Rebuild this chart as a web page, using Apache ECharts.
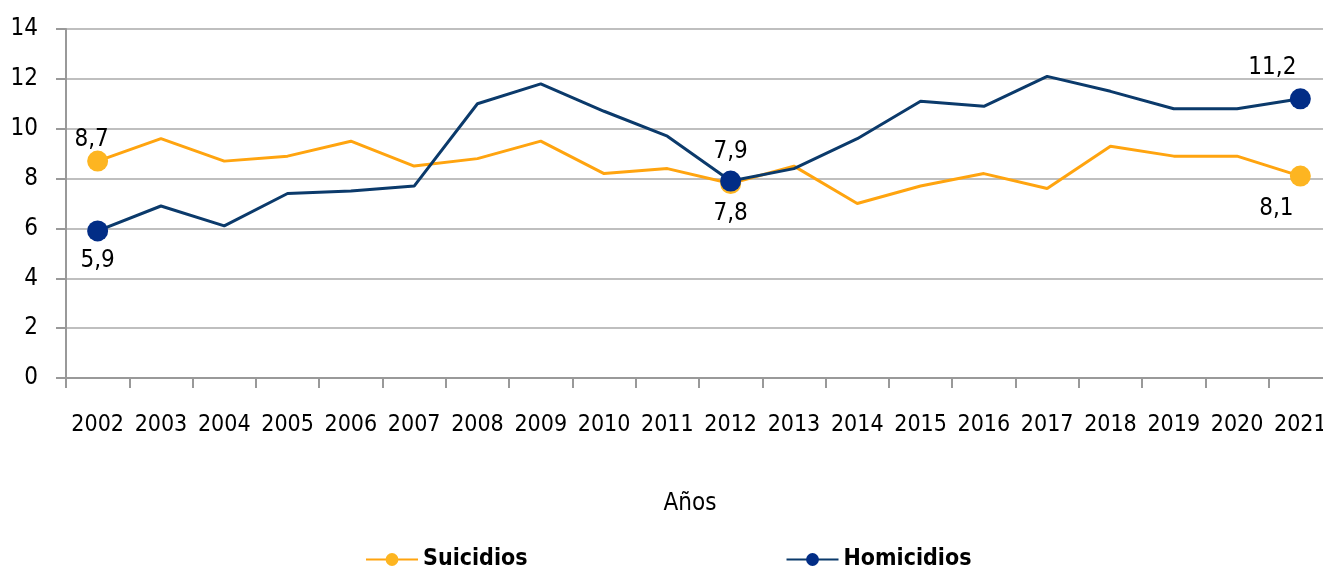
<!DOCTYPE html>
<html>
<head>
<meta charset="utf-8" />
<script src="https://cdn.jsdelivr.net/npm/echarts@6/dist/echarts.min.js"></script>
<title>Suicidios y homicidios</title>
<style>
  html, body { margin: 0; padding: 0; background: #fff; }
</style>
</head>
<body>
<div id="main" style="width:1323px; height:573px"></div>
<script type="text/javascript">
var years = ['2002','2003','2004','2005','2006','2007','2008','2009','2010','2011',
             '2012','2013','2014','2015','2016','2017','2018','2019','2020','2021'];
var suicidios  = [8.7, 9.6, 8.7, 8.9, 9.5, 8.5, 8.8, 9.5, 8.2, 8.4,
                  7.8, 8.5, 7.0, 7.7, 8.2, 7.6, 9.3, 8.9, 8.9, 8.1];
var homicidios = [5.9, 6.9, 6.1, 7.4, 7.5, 7.7, 11.0, 11.8, 10.7, 9.7,
                  7.9, 8.4, 9.6, 11.1, 10.9, 12.1, 11.5, 10.8, 10.8, 11.2];
var marcados = [0, 10, 19]; // años con punto y etiqueta
var yTicks = [0, 2, 4, 6, 8, 10, 12, 14];

var font = '"DejaVu Sans Condensed", "Liberation Sans Narrow", sans-serif';

// posiciones de las etiquetas: [serie][indice marcado]
var labelPos = {
    s: [{position: 'top', offset: [-6, 9]}, {position: 'bottom', offset: [0, 0]}, {position: 'bottom', offset: [-24, 2]}],
    h: [{position: 'bottom', offset: [0, -1]}, {position: 'top', offset: [0, 1]}, {position: 'top', offset: [-28, -1]}]
};

function buildData(values, key) {
    return values.map(function (v, i) {
        var k = marcados.indexOf(i);
        if (k < 0) return {value: v, symbol: 'none'};
        return {
            value: v,
            label: {
                show: true,
                position: labelPos[key][k].position,
                offset: labelPos[key][k].offset,
                distance: 8
            }
        };
    });
}

var labelStyle = {
    color: '#000',
    fontFamily: font,
    fontSize: 24,
    formatter: function (p) { return String(p.value).replace('.', ','); }
};

var myChart = echarts.init(document.getElementById('main'));
myChart.setOption({
    animation: false,
    grid: {left: 66, width: 1266, top: 29, bottom: 195, outerBoundsMode: 'none', containLabel: false},
    legend: {
        left: 365,
        top: 548,
        padding: 0,
        itemWidth: 52,
        itemHeight: 16,
        itemGap: 258,
        textStyle: {fontFamily: font, fontSize: 23, fontWeight: 'bold', color: '#000'},
        data: ['Suicidios', 'Homicidios']
    },
    xAxis: {
        type: 'category',
        data: years,
        name: 'Años',
        nameLocation: 'middle',
        nameGap: 114,
        nameTextStyle: {fontFamily: font, fontSize: 24, color: '#000', padding: [0, 18, 0, 0]},
        axisLine: {lineStyle: {color: '#999', width: 2}},
        axisTick: {show: true, length: 10, lineStyle: {color: '#999', width: 2}},
        axisLabel: {fontFamily: font, fontSize: 23, color: '#000', margin: 36, interval: 0}
    },
    yAxis: {
        type: 'value',
        min: yTicks[0],
        max: yTicks[yTicks.length - 1],
        interval: 2,
        axisLine: {show: true, lineStyle: {color: '#999', width: 2}},
        axisTick: {show: true, length: 10, lineStyle: {color: '#999', width: 2}},
        splitLine: {lineStyle: {color: '#bfbfbf', width: 2}},
        axisLabel: {fontFamily: font, fontSize: 24, color: '#000', margin: 28}
    },
    series: [
        {
            name: 'Suicidios',
            type: 'line',
            data: buildData(suicidios, 's'),
            symbol: 'circle',
            symbolSize: 21,
            lineStyle: {color: '#FFA40F', width: 3},
            itemStyle: {color: '#FDB521'},
            label: labelStyle,
            z: 2
        },
        {
            name: 'Homicidios',
            type: 'line',
            data: buildData(homicidios, 'h'),
            symbol: 'circle',
            symbolSize: 21,
            lineStyle: {color: '#0B3A6B', width: 3},
            itemStyle: {color: '#022D86'},
            label: labelStyle,
            z: 3
        }
    ]
});
</script>
</body>
</html>
